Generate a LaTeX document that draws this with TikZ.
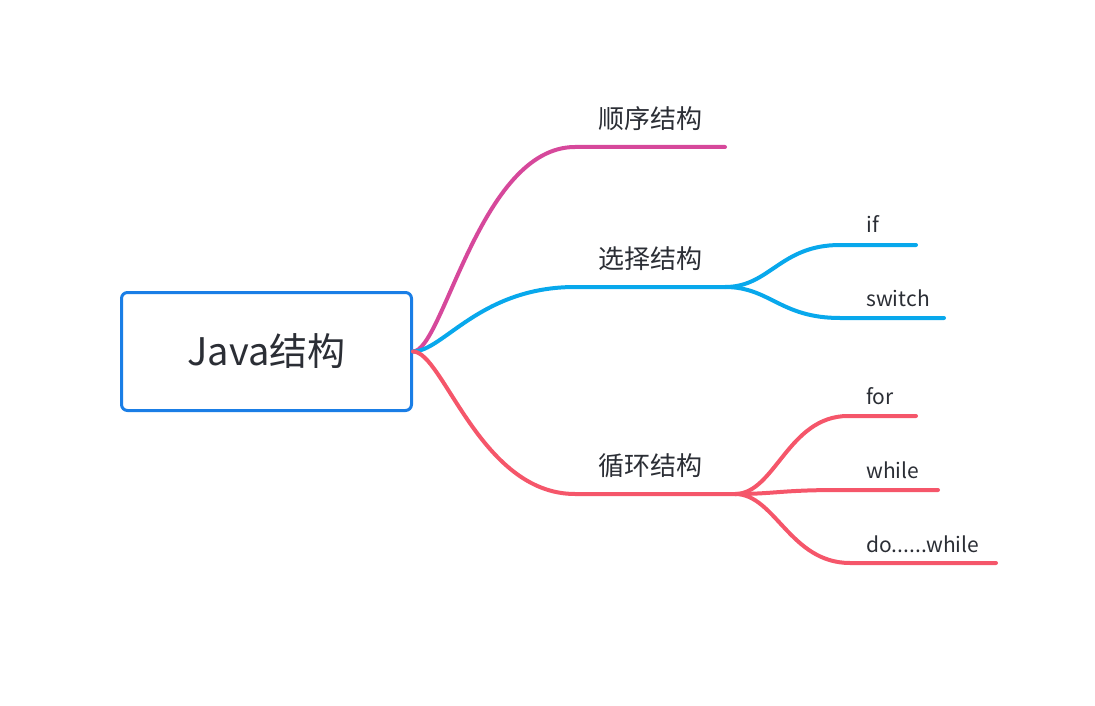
\documentclass[tikz,border=0pt]{standalone}
\usepackage{fontspec}
\setmainfont{Noto Sans CJK SC}
\usepackage{tikz}
\usetikzlibrary{positioning}
\usepackage{xcolor}
\definecolor{boxblue}{HTML}{1A7EE6}
\definecolor{seqcol}{HTML}{D6489B}
\definecolor{selcol}{HTML}{08A8EC}
\definecolor{loopcol}{HTML}{F5566A}
\definecolor{txtcol}{HTML}{2B2E35}

\begin{document}
\begin{tikzpicture}[x=0.75pt,y=-0.75pt]
    \tikzstyle{rootbox} = [draw=boxblue,line width=2.25pt,rounded corners=4.5pt,fill=white,minimum width=217.5pt,minimum height=88.5pt,text=txtcol,font=\fontsize{28.5}{30}\selectfont]
    \tikzstyle{branch} = [text=txtcol,font=\fontsize{19.5}{21}\selectfont]
    \tikzstyle{leaf} = [text=txtcol,anchor=west,inner sep=0pt,font=\fontsize{15.75}{17}\selectfont]
    \tikzstyle{limb} = [line width=3pt,line cap=round]
    \useasboundingbox (0,0) rectangle (1095,706);
    \node[rootbox] (root) at (266.5,351.5) {Java结构};
    % main branches
    \node[branch] (seq) at (650,119) {顺序结构};
    \node[branch] (sel) at (650,259) {选择结构};
    \node[branch] (loop) at (650,466) {循环结构};
    \coordinate (seqa) at (575,147);
    \coordinate (seqb) at (725,147);
    \coordinate (sela) at (575,287);
    \coordinate (selb) at (725,287);
    \coordinate (loopa) at (575,494);
    \coordinate (loopb) at (735,494);
    % leaves
    \node[leaf] (if) at (866,224) {if};
    \node[leaf] (switch) at (866,298) {switch};
    \node[leaf] (for) at (866,396) {for};
    \node[leaf] (while) at (866,470) {while};
    \node[leaf] (dowhile) at (866,544) {do......while};
    \coordinate (ifa) at (840,245);
    \coordinate (ifb) at (916,245);
    \coordinate (switcha) at (840,318);
    \coordinate (switchb) at (944,318);
    \coordinate (fora) at (848,416);
    \coordinate (forb) at (916,416);
    \coordinate (whilea) at (840,490);
    \coordinate (whileb) at (938,490);
    \coordinate (dowhilea) at (850,563);
    \coordinate (dowhileb) at (996,563);
    \draw[limb,seqcol] (root.east) .. controls +(30,0) and +(-95,0) .. (seqa) -- (seqb);
    \draw[limb,selcol] (root.east) .. controls +(30,0) and +(-95,0) .. (sela) -- (selb);
    \draw[limb,loopcol] (root.east) .. controls +(30,0) and +(-95,0) .. (loopa) -- (loopb);
    \draw[limb,selcol] (selb) .. controls +(45,0) and +(-60,0) .. (ifa) -- (ifb);
    \draw[limb,selcol] (selb) .. controls +(45,0) and +(-60,0) .. (switcha) -- (switchb);
    \draw[limb,loopcol] (loopb) .. controls +(40,0) and +(-60,0) .. (fora) -- (forb);
    \draw[limb,loopcol] (loopb) .. controls +(40,0) and +(-60,0) .. (whilea) -- (whileb);
    \draw[limb,loopcol] (loopb) .. controls +(40,0) and +(-60,0) .. (dowhilea) -- (dowhileb);
\end{tikzpicture}
\end{document}
